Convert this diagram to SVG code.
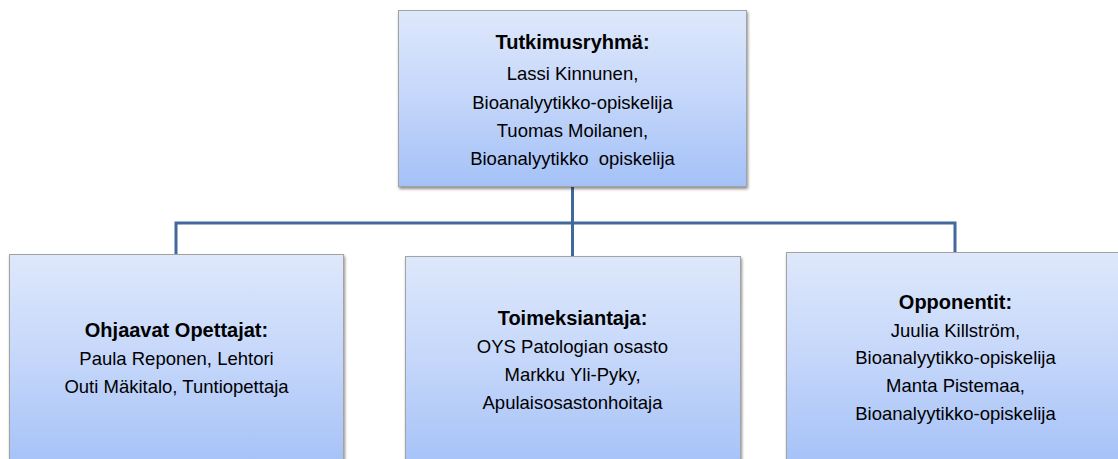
<svg xmlns="http://www.w3.org/2000/svg" width="1118" height="459" viewBox="0 0 1118 459">
  <defs>
    <linearGradient id="boxGrad" x1="0" y1="0" x2="0" y2="1">
      <stop offset="0" stop-color="#DEE8FB"/>
      <stop offset="0.5" stop-color="#C4D6FA"/>
      <stop offset="1" stop-color="#A4C1F7"/>
    </linearGradient>
    <filter id="shadow" x="-5%" y="-5%" width="115%" height="120%">
      <feGaussianBlur in="SourceAlpha" stdDeviation="1.5"/>
      <feOffset dx="1" dy="2" result="b"/>
      <feComponentTransfer><feFuncA type="linear" slope="0.45"/></feComponentTransfer>
      <feMerge><feMergeNode/><feMergeNode in="SourceGraphic"/></feMerge>
    </filter>
    <style>
      .box { fill: url(#boxGrad); stroke: #A3A3A3; stroke-width: 1; filter: url(#shadow); }
      .title { font-family: "Liberation Sans", Arial, sans-serif; font-size: 20px; font-weight: bold; fill: #000; text-anchor: middle; }
      .txt { font-family: "Liberation Sans", Arial, sans-serif; font-size: 18.5px; fill: #000; text-anchor: middle; }
      .conn { fill: none; stroke: #41699B; stroke-width: 3; stroke-linejoin: miter; }
    </style>
  </defs>
  <rect width="1118" height="459" fill="#FFFFFF"/>

  <g id="connectors">
    <path class="conn" d="M572.5 187 V223"/>
    <path class="conn" d="M176 254 V223 H955 V252"/>
    <path class="conn" d="M572.5 223 V256"/>
  </g>

  <g id="node-tutkimusryhma">
    <rect class="box" x="398.5" y="10.5" width="348" height="176"/>
    <text class="title" x="572.5" y="48.5">Tutkimusryhmä:</text>
    <text class="txt" x="572.5" y="80">Lassi Kinnunen,</text>
    <text class="txt" x="572.5" y="108.5">Bioanalyytikko-opiskelija</text>
    <text class="txt" x="572.5" y="136.5">Tuomas Moilanen,</text>
    <text class="txt" x="572.5" y="164.5" xml:space="preserve">Bioanalyytikko  opiskelija</text>
  </g>

  <g id="node-ohjaavat">
    <rect class="box" x="9.5" y="254.5" width="334" height="215"/>
    <text class="title" x="176.5" y="336.5">Ohjaavat Opettajat:</text>
    <text class="txt" x="176.5" y="365">Paula Reponen, Lehtori</text>
    <text class="txt" x="176.5" y="393">Outi Mäkitalo, Tuntiopettaja</text>
  </g>

  <g id="node-toimeksiantaja">
    <rect class="box" x="405.5" y="256.5" width="335" height="215"/>
    <text class="title" x="572.5" y="325">Toimeksiantaja:</text>
    <text class="txt" x="572.5" y="353">OYS Patologian osasto</text>
    <text class="txt" x="572.5" y="380.5">Markku Yli-Pyky,</text>
    <text class="txt" x="572.5" y="408.5">Apulaisosastonhoitaja</text>
  </g>

  <g id="node-opponentit">
    <rect class="box" x="786.5" y="252.5" width="338" height="215"/>
    <text class="title" x="955.5" y="308.5">Opponentit:</text>
    <text class="txt" x="955.5" y="336.5">Juulia Killström,</text>
    <text class="txt" x="955.5" y="364">Bioanalyytikko-opiskelija</text>
    <text class="txt" x="955.5" y="392">Manta Pistemaa,</text>
    <text class="txt" x="955.5" y="420">Bioanalyytikko-opiskelija</text>
  </g>
</svg>
